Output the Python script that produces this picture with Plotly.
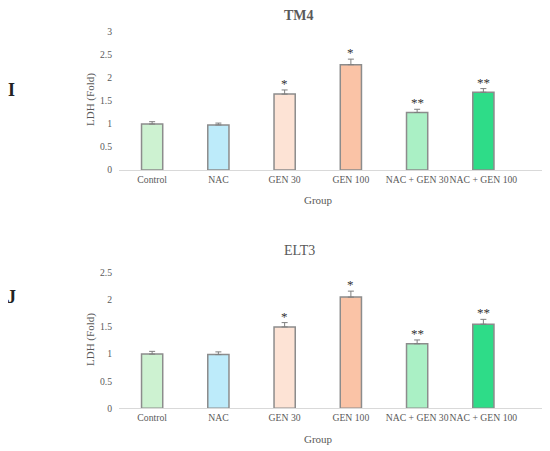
import plotly.graph_objects as go
from plotly.subplots import make_subplots

groups = ["Control", "NAC", "GEN 30", "GEN 100", "NAC + GEN 30", "NAC + GEN 100"]

tm4_ldh = [1.00, 0.98, 1.65, 2.29, 1.25, 1.69]
tm4_err = [0.05, 0.04, 0.09, 0.12, 0.07, 0.08]
tm4_sig = ["", "", "*", "*", "**", "**"]

elt3_ldh = [1.00, 0.99, 1.50, 2.05, 1.19, 1.55]
elt3_err = [0.05, 0.05, 0.08, 0.11, 0.07, 0.09]
elt3_sig = ["", "", "*", "*", "**", "**"]

bar_colors = ["#CDF2D1", "#BDEBFA", "#FDE3D5", "#FAC3A6", "#AAF0C5", "#2EDC88"]

FONT = "Liberation Serif"
GREY = "#595959"

# the page body has an 8px margin, so the figure is sized to fill the rest
OFF = 8
W, H = 550 - OFF, 451 - OFF


def px(x):
    return (x - OFF) / W


def py(y):
    return 1 - (y - OFF) / H


fig = make_subplots(rows=2, cols=1)

panels = [
    (1, tm4_ldh, tm4_err, tm4_sig),
    (2, elt3_ldh, elt3_err, elt3_sig),
]
for row, vals, errs, sig in panels:
    fig.add_trace(go.Bar(
        x=groups, y=vals,
        width=0.32,
        marker=dict(color=bar_colors, line=dict(color="#8C8C8C", width=1.5)),
        error_y=dict(type="data", symmetric=False, array=errs,
                     arrayminus=[0] * len(errs), color="#7F7F7F",
                     thickness=1, width=3),
        showlegend=False,
    ), row=row, col=1)
    for g, v, e, s in zip(groups, vals, errs, sig):
        if s:
            fig.add_annotation(x=g, y=v + e, text=s, showarrow=False,
                               yanchor="bottom", yshift=-3,
                               font=dict(family=FONT, size=13, color="#333333"),
                               xref="x" if row == 1 else "x2",
                               yref="y" if row == 1 else "y2")

xdom = [px(119), px(543)]
axis_common = dict(showgrid=False, zeroline=False, automargin=False,
                   tickfont=dict(family=FONT, size=9.7, color=GREY))
fig.update_layout(
    width=W, height=H,
    margin=dict(l=0, r=0, t=0, b=0, autoexpand=False),
    plot_bgcolor="white", paper_bgcolor="white",
    xaxis=dict(domain=xdom, range=[-0.5, 5.9], showline=True, tickangle=0,
               linecolor="#D9D9D9", linewidth=1, ticks="", **axis_common),
    xaxis2=dict(domain=xdom, range=[-0.5, 5.9], showline=True, tickangle=0,
                linecolor="#D9D9D9", linewidth=1, ticks="", **axis_common),
    yaxis=dict(domain=[py(170), py(32)], range=[0, 3], ticklabelstandoff=6,
               dtick=0.5, showline=False, **axis_common),
    yaxis2=dict(domain=[py(408.3), py(272.7)], range=[0, 2.5], ticklabelstandoff=6,
                dtick=0.5, showline=False, **axis_common),
)


def label(text, x, y, size, bold=False, angle=0, color=GREY):
    fig.add_annotation(x=px(x), y=py(y), xref="paper", yref="paper",
                       text=f"<b>{text}</b>" if bold else text, showarrow=False,
                       textangle=angle, xanchor="center", yanchor="middle",
                       font=dict(family=FONT, size=size, color=color))


label("TM4", 299, 16, 14, bold=True)
label("ELT3", 299, 250, 14)
label("LDH (Fold)", 90, 100, 11, angle=-90)
label("LDH (Fold)", 90, 340, 11, angle=-90)
label("Group", 318, 200, 11)
label("Group", 318, 439, 11)
label("I", 11, 90, 18, bold=True, color="#222222")
label("J", 11, 297, 18, bold=True, color="#222222")

fig.write_html("out.html")
